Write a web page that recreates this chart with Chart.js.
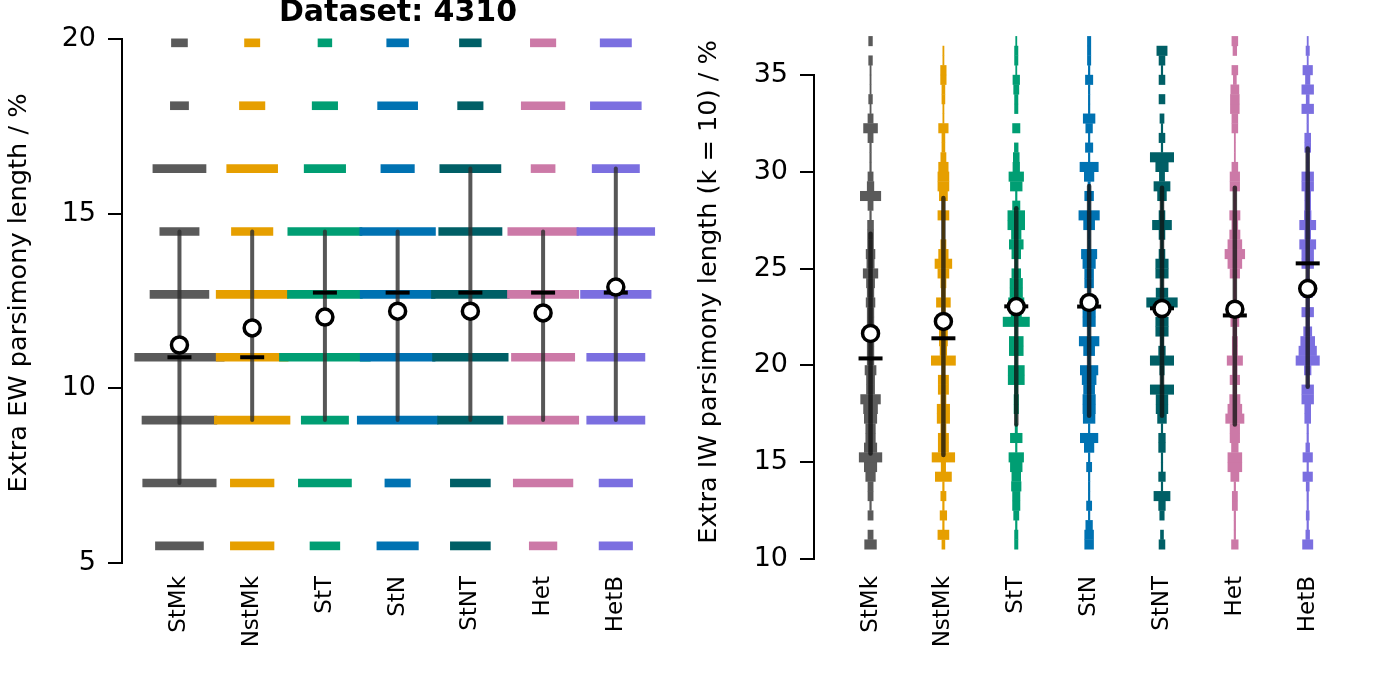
<!DOCTYPE html>
<html>
<head>
<meta charset="utf-8">
<script src="https://cdn.jsdelivr.net/npm/chart.js@4.4.0/dist/chart.umd.min.js"></script>
<style>
  html, body { margin: 0; padding: 0; background: #fff; }
  #wrap { position: relative; width: 1382px; height: 691px; overflow: hidden; }
  .panel { position: absolute; top: 0; }
  #left { left: 0; }
  #right { left: 690px; }
</style>
</head>
<body>
<div id="wrap">
  <div class="panel" id="left"><canvas id="ewChart" width="690" height="691"></canvas></div>
  <div class="panel" id="right"><canvas id="iwChart" width="692" height="691"></canvas></div>
</div>
<script>
const categories = ['StMk', 'NstMk', 'StT', 'StN', 'StNT', 'Het', 'HetB'];
const colors = ['#5A5A5A', '#E69F00', '#009E73', '#0072B2', '#005F66', '#CC79A7', '#7B6FE0'];

// left panel: equal weights, discrete scores
const ewLevels = [5.49, 7.29, 9.09, 10.89, 12.69, 14.49, 16.29, 18.09, 19.89];
// frequency widths per category (in category units), bottom to top
const ewWidths = [
  [0.66, 1.01, 1.03, 1.23, 0.81, 0.54, 0.73, 0.25, 0.22],
  [0.60, 0.60, 1.04, 0.99, 0.99, 0.57, 0.70, 0.35, 0.21],
  [0.41, 0.73, 0.65, 1.25, 1.03, 1.02, 0.57, 0.35, 0.19],
  [0.57, 0.35, 1.11, 1.03, 1.03, 1.04, 0.46, 0.55, 0.30],
  [0.55, 0.55, 0.90, 1.04, 1.07, 0.87, 0.84, 0.35, 0.30],
  [0.38, 0.82, 0.98, 0.87, 0.98, 0.97, 0.33, 0.60, 0.35],
  [0.46, 0.46, 0.80, 0.80, 0.97, 1.07, 0.65, 0.70, 0.43]
];
const ewLow = [7.29, 9.09, 9.09, 9.09, 9.09, 9.09, 9.09];
const ewHigh = [14.49, 14.49, 14.49, 14.49, 16.29, 14.49, 16.29];
const ewMedian = [10.89, 10.89, 12.74, 12.74, 12.74, 12.74, 12.74];
const ewMean = [11.24, 11.73, 12.04, 12.21, 12.21, 12.16, 12.9];

// right panel: implied weights, k = 10
const iwBins = [10.75, 11.25, 11.75, 12.25, 12.75, 13.25, 13.75, 14.25, 14.75, 15.25,
  15.75, 16.25, 16.75, 17.25, 17.75, 18.25, 18.75, 19.25, 19.75, 20.25,
  20.75, 21.25, 21.75, 22.25, 22.75, 23.25, 23.75, 24.25, 24.75, 25.25,
  25.75, 26.25, 26.75, 27.25, 27.75, 28.25, 28.75, 29.25, 29.75, 30.25,
  30.75, 31.25, 31.75, 32.25, 32.75, 33.25, 33.75, 34.25, 34.75, 35.25,
  35.75, 36.25, 36.75];
const iwWidths = [
  [0.17, 0.08, 0, 0.08, 0.03, 0.08, 0.08, 0.14, 0.18, 0.32,
   0.18, 0.14, 0.14, 0.18, 0.2, 0.28, 0.12, 0.12, 0.16, 0.1,
   0.1, 0.1, 0.12, 0.1, 0.1, 0.13, 0.1, 0.12, 0.21, 0.11,
   0.13, 0.09, 0.09, 0.09, 0.03, 0.08, 0.29, 0.1, 0.08, 0.03,
   0.03, 0.03, 0.08, 0.2, 0.08, 0.025, 0.06, 0.025, 0.025, 0.025,
   0.06, 0, 0.06],
  [0.05, 0.16, 0.03, 0.1, 0.03, 0.08, 0.03, 0.23, 0.07, 0.32,
   0.15, 0.15, 0.08, 0.18, 0.18, 0.08, 0.15, 0.15, 0.05, 0.34,
   0.1, 0.12, 0.12, 0.06, 0.06, 0.2, 0.06, 0.08, 0.16, 0.24,
   0.14, 0.08, 0.04, 0.04, 0.16, 0.04, 0.12, 0.16, 0.16, 0.14,
   0.08, 0.05, 0.05, 0.14, 0.025, 0.025, 0.05, 0.05, 0.085, 0.085,
   0.025, 0.025, 0],
  [0.055, 0.055, 0.03, 0.08, 0.11, 0.11, 0.14, 0.13, 0.17, 0.21,
   0.03, 0.17, 0.04, 0.03, 0.07, 0.07, 0.05, 0.23, 0.23, 0.04,
   0.2, 0.2, 0.04, 0.37, 0.15, 0.22, 0.18, 0.18, 0.13, 0.04,
   0.13, 0.2, 0.14, 0.24, 0.24, 0.11, 0.03, 0.17, 0.21, 0.1,
   0.09, 0.06, 0, 0.11, 0, 0.055, 0.055, 0.08, 0.1, 0.025,
   0.055, 0.055, 0.025],
  [0.13, 0.13, 0.1, 0.03, 0.08, 0.03, 0.03, 0.03, 0.08, 0.03,
   0.14, 0.25, 0.03, 0.17, 0.18, 0.18, 0.16, 0.2, 0.25, 0.04,
   0.16, 0.28, 0.04, 0.18, 0.18, 0.1, 0.04, 0.13, 0.13, 0.18,
   0.22, 0.04, 0.04, 0.16, 0.29, 0.04, 0.13, 0.04, 0.14, 0.26,
   0.03, 0.11, 0.03, 0.1, 0.17, 0.03, 0.03, 0.03, 0.11, 0.03,
   0.055, 0.055, 0.055],
  [0.09, 0.05, 0, 0.07, 0.1, 0.23, 0.03, 0.1, 0.03, 0.03,
   0.1, 0.1, 0.03, 0.13, 0.17, 0.17, 0.33, 0.04, 0.07, 0.33,
   0.1, 0.05, 0.18, 0.18, 0.1, 0.43, 0.17, 0.04, 0.18, 0.18,
   0.09, 0.04, 0.09, 0.27, 0.09, 0.04, 0.13, 0.23, 0.08, 0.18,
   0.33, 0.03, 0.09, 0.03, 0.065, 0, 0.09, 0, 0.09, 0.03,
   0.09, 0.15, 0],
  [0.1, 0.03, 0.03, 0.03, 0.08, 0.08, 0.03, 0.12, 0.2, 0.2,
   0.1, 0.14, 0.14, 0.26, 0.2, 0.15, 0.06, 0.14, 0.07, 0.22,
   0.08, 0.08, 0.06, 0.12, 0.1, 0.04, 0.04, 0.04, 0.14, 0.2,
   0.28, 0.2, 0.15, 0.09, 0.15, 0.04, 0.04, 0.14, 0.14, 0.09,
   0.025, 0.025, 0.025, 0.09, 0.09, 0.13, 0.13, 0.12, 0.05, 0.09,
   0, 0.06, 0.09],
  [0.15, 0.06, 0.03, 0.05, 0.03, 0.03, 0.05, 0.14, 0.03, 0.14,
   0.06, 0.03, 0.03, 0.09, 0.09, 0.17, 0.17, 0.04, 0.1, 0.33,
   0.25, 0.2, 0.12, 0.05, 0.17, 0.05, 0.14, 0.06, 0.04, 0.17,
   0.17, 0.23, 0.09, 0.23, 0.1, 0.09, 0.09, 0.17, 0.17, 0.04,
   0.04, 0.09, 0.09, 0.03, 0.03, 0.17, 0.05, 0.17, 0.07, 0.14,
   0.025, 0.055, 0.025]
];
const iwLow = [15.45, 15.37, 16.95, 17.4, 17.4, 16.95, 18.9];
const iwHigh = [26.8, 28.65, 28.12, 29.27, 29.18, 29.18, 31.2];
const iwMedian = [20.36, 21.4, 23.05, 23.04, 22.95, 22.58, 25.27];
const iwMean = [21.65, 22.27, 23.04, 23.25, 22.94, 22.9, 23.97];

const FONT = 'DejaVu Sans';

// plain text drawn on the canvas (titles placed like the R figure)
const textPlugin = {
  id: 'texts',
  afterDraw(chart, args, opts) {
    const ctx = chart.ctx;
    (opts.items || []).forEach(t => {
      ctx.save();
      ctx.fillStyle = '#000';
      ctx.font = t.font;
      ctx.textAlign = 'center';
      const x = t.x === 'center' ? (chart.chartArea.left + chart.chartArea.right) / 2 : t.x;
      ctx.translate(x, t.y);
      if (t.rotate) ctx.rotate(-Math.PI / 2);
      ctx.textBaseline = t.rotate ? 'middle' : 'alphabetic';
      ctx.fillText(t.text, 0, 0);
      ctx.restore();
    });
  }
};

function buildDatasets(levels, widths, low, high, median, mean, rangeColor, rangeWidth, thickness) {
  const sets = [];
  categories.forEach((cat, i) => {
    const pts = [];
    levels.forEach((y, j) => {
      const w = widths[i][j];
      if (w > 0) pts.push({ y: y, x: [i + 1 - w / 2, i + 1 + w / 2] });
    });
    sets.push({
      type: 'bar', indexAxis: 'y', grouped: false, label: cat,
      data: pts, backgroundColor: colors[i], borderWidth: 0,
      barThickness: thickness, barPercentage: 1.04, categoryPercentage: 1,
      order: 20 + categories.length - i, clip: false
    });
  });
  categories.forEach((cat, i) => {
    sets.push({
      type: 'line', data: [{ x: i + 1, y: low[i] }, { x: i + 1, y: high[i] }],
      borderColor: rangeColor, borderWidth: rangeWidth, borderCapStyle: 'round',
      pointRadius: 0, order: 5, clip: false
    });
  });
  sets.push({
    type: 'scatter', data: median.map((y, i) => ({ x: i + 1, y: y })),
    pointStyle: 'line', pointRadius: 12, pointBorderWidth: 4,
    pointBorderColor: '#000', order: 2, clip: false
  });
  sets.push({
    type: 'scatter', data: mean.map((y, i) => ({ x: i + 1, y: y })),
    pointStyle: 'circle', pointRadius: 8, pointBorderWidth: 3.5,
    pointBorderColor: '#000', pointBackgroundColor: '#fff', order: 1, clip: false
  });
  return sets;
}

function makeOptions(yMin, yMax, xMin, xMax, yWidth, xHeight, padTop, padRight, labelPad, texts) {
  return {
    responsive: false,
    animation: false,
    events: [],
    layout: { padding: { top: padTop, right: padRight, left: 0, bottom: 0 } },
    plugins: { legend: { display: false }, tooltip: { enabled: false }, texts: { items: texts } },
    scales: {
      x: {
        type: 'linear', min: xMin, max: xMax, offset: false,
        afterBuildTicks: s => { s.ticks = categories.map((c, i) => ({ value: i + 1 })); },
        afterFit: s => { s.height = xHeight; },
        ticks: {
          autoSkip: false, minRotation: 90, maxRotation: 90, padding: labelPad, color: '#000',
          font: { family: FONT, size: 23 },
          callback: v => categories[v - 1]
        },
        grid: { display: false },
        border: { display: false }
      },
      y: {
        type: 'linear', min: yMin, max: yMax, offset: false,
        afterFit: s => { s.width = yWidth; },
        ticks: { stepSize: 5, padding: 12, color: '#000', font: { family: FONT, size: 27 } },
        grid: { drawOnChartArea: false, drawTicks: true, tickLength: 14, color: '#000', lineWidth: 2, offset: false },
        border: { display: true, color: '#000', width: 2 }
      }
    }
  };
}

new Chart(document.getElementById('ewChart'), {
  type: 'scatter',
  data: { datasets: buildDatasets(ewLevels, ewWidths, ewLow, ewHigh, ewMedian, ewMean, 'rgba(45,45,45,0.8)', 4, 8) },
  options: makeOptions(5, 20, 0.21, 7.8, 122, 128, 39, 10, 5, [
    { text: 'Dataset: 4310', x: 'center', y: 21, font: 'bold 30px ' + FONT },
    { text: 'Extra EW parsimony length / %', x: 19, y: 293, rotate: true, font: '25.6px ' + FONT }
  ]),
  plugins: [textPlugin]
});

new Chart(document.getElementById('iwChart'), {
  type: 'scatter',
  data: { datasets: buildDatasets(iwBins, iwWidths, iwLow, iwHigh, iwMedian, iwMean, 'rgba(15,15,15,0.75)', 4.5, undefined) },
  options: makeOptions(10, 35, 0.224, 7.8, 124, 132, 75, 11, 9, [
    { text: 'Extra IW parsimony length (k = 10) / %', x: 19, y: 292, rotate: true, font: '25.6px ' + FONT }
  ]),
  plugins: [textPlugin]
});
</script>
</body>
</html>
